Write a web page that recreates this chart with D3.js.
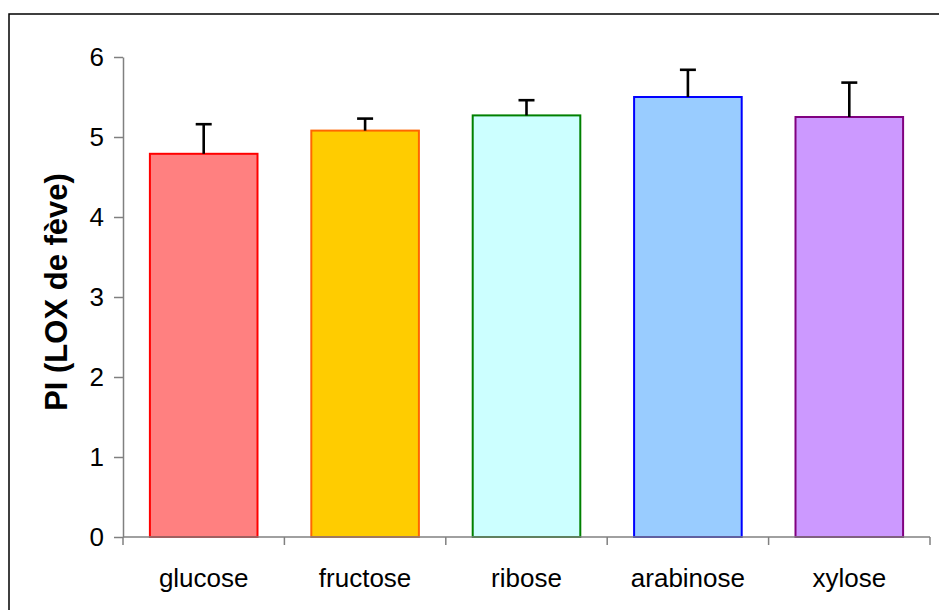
<!DOCTYPE html>
<html>
<head>
<meta charset="utf-8">
<script src="https://cdn.jsdelivr.net/npm/d3@7"></script>
<style>
  html, body { margin: 0; padding: 0; background: #fff; }
  svg { display: block; }
  text { font-family: "Liberation Sans", Arial, sans-serif; fill: #000; }
</style>
</head>
<body>
<div id="chart"></div>
<script>
// Sugars tested and their PI (LOX de fève) means with upper error
const categories = ["glucose", "fructose", "ribose", "arabinose", "xylose"];
const values = [4.79, 5.08, 5.27, 5.50, 5.25];
const errors = [0.37, 0.15, 0.19, 0.34, 0.43];
const fills = ["#FF8080", "#FFCC00", "#CCFFFF", "#99CCFF", "#CC99FF"];
const strokes = ["#FF0000", "#FF6600", "#008000", "#0000FF", "#800080"];
const yTicks = [0, 1, 2, 3, 4, 5, 6];
const yTitle = "PI (LOX de fève)";

const W = 939, H = 610;
const plot = { left: 123, right: 930, top: 57, bottom: 537 };

const svg = d3.select("#chart").append("svg")
  .attr("width", W).attr("height", H);

// chart frame
svg.append("rect")
  .attr("x", 9).attr("y", 14)
  .attr("width", W + 10).attr("height", H + 10)
  .attr("fill", "none").attr("stroke", "#000").attr("stroke-width", 1.5);

const x = d3.scaleBand()
  .domain(categories)
  .range([plot.left, plot.right])
  .paddingInner(1 / 3)
  .paddingOuter(1 / 6);

const y = d3.scaleLinear().domain([0, 6]).range([plot.bottom, plot.top]);

// bars
svg.append("g").selectAll("rect")
  .data(categories)
  .join("rect")
  .attr("x", d => x(d))
  .attr("y", (d, i) => y(values[i]))
  .attr("width", x.bandwidth())
  .attr("height", (d, i) => y(0) - y(values[i]))
  .attr("fill", (d, i) => fills[i])
  .attr("stroke", (d, i) => strokes[i])
  .attr("stroke-width", 2);

// upper error bars
const eb = svg.append("g").attr("stroke", "#000").attr("stroke-width", 2.6);
categories.forEach((c, i) => {
  const cx = x(c) + x.bandwidth() / 2;
  eb.append("line")
    .attr("x1", cx).attr("x2", cx)
    .attr("y1", y(values[i])).attr("y2", y(values[i] + errors[i]));
  eb.append("line")
    .attr("x1", cx - 8).attr("x2", cx + 8)
    .attr("y1", y(values[i] + errors[i])).attr("y2", y(values[i] + errors[i]));
});

// y axis
const yAxis = svg.append("g")
  .attr("transform", `translate(${plot.left},0)`)
  .call(d3.axisLeft(y).tickValues(yTicks).tickFormat(d3.format("d"))
    .tickSize(9).tickSizeOuter(0).tickPadding(10));
yAxis.select(".domain").attr("stroke", "#808080").attr("stroke-width", 1.5);
yAxis.selectAll(".tick line").attr("stroke", "#808080").attr("stroke-width", 1.5);
yAxis.selectAll(".tick text")
  .attr("font-size", 26)
  .attr("font-family", "Liberation Sans, Arial, sans-serif")
  .attr("fill", "#000");

// x axis with ticks between categories
const xAxisG = svg.append("g").attr("transform", `translate(0,${plot.bottom})`);
xAxisG.append("line")
  .attr("x1", plot.left).attr("x2", plot.right)
  .attr("stroke", "#808080").attr("stroke-width", 1.5);
const step = x.step();
const bounds = d3.range(categories.length + 1).map(i => plot.left + i * step);
xAxisG.selectAll("line.sep")
  .data(bounds)
  .join("line")
  .attr("class", "sep")
  .attr("x1", d => d).attr("x2", d => d)
  .attr("y1", 0).attr("y2", 8)
  .attr("stroke", "#808080").attr("stroke-width", 1.5);
xAxisG.selectAll("text")
  .data(categories)
  .join("text")
  .attr("x", d => x(d) + x.bandwidth() / 2)
  .attr("y", 50)
  .attr("text-anchor", "middle")
  .attr("font-size", 26)
  .text(d => d);

// y axis title
svg.append("text")
  .attr("transform", `translate(67,${(plot.top + plot.bottom) / 2 - 5}) rotate(-90)`)
  .attr("text-anchor", "middle")
  .attr("font-size", 31)
  .attr("font-weight", "bold")
  .text(yTitle);
</script>
</body>
</html>
